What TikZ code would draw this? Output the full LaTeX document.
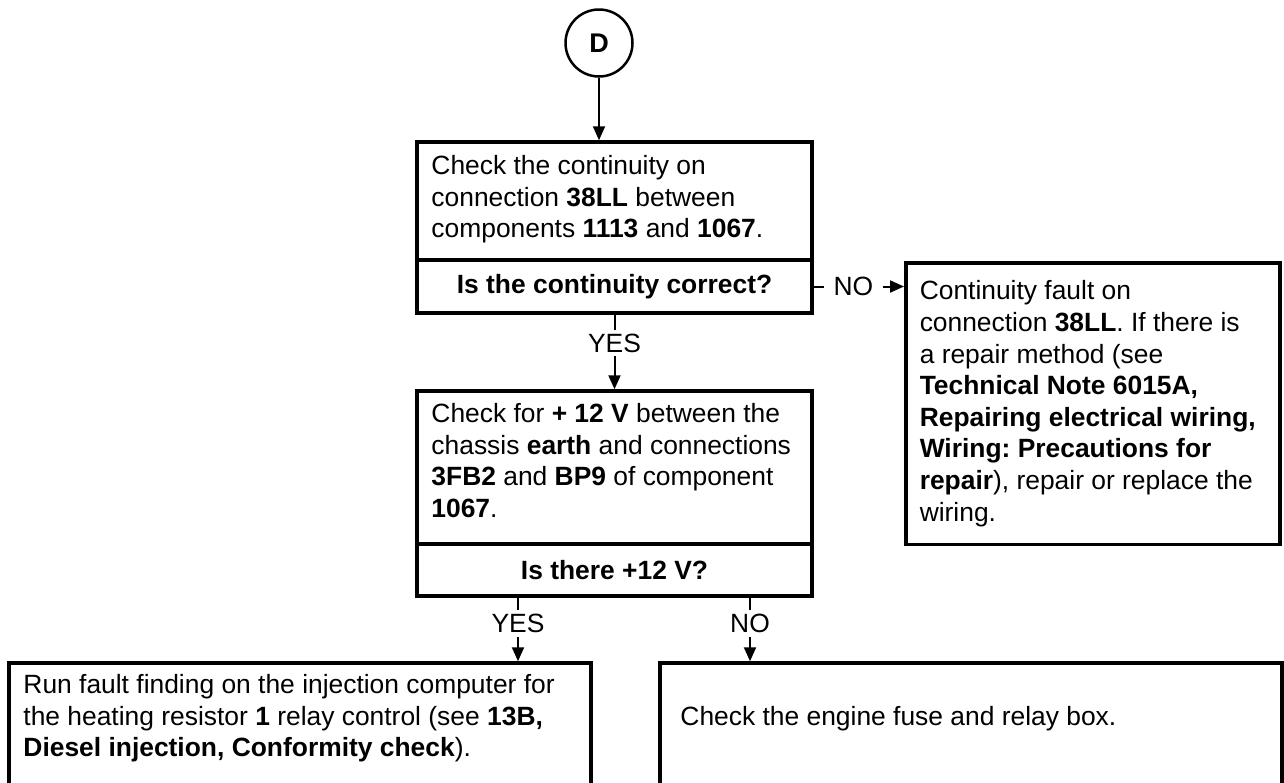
\documentclass[tikz,border=0pt]{standalone}
\usepackage{fontspec}
\setmainfont{Liberation Sans}
\usetikzlibrary{arrows.meta,positioning}
\frenchspacing

\begin{document}
\begin{tikzpicture}[
  x=1pt, y=-1pt,
  font=\fontsize{26.4}{31.6}\selectfont,
  box/.style={draw, line width=3.5pt, inner sep=0pt},
  ques/.style={box, font=\fontsize{26.4}{31.6}\selectfont\bfseries},
  txt/.style={anchor=north west, align=left, inner sep=0pt},
  lbl/.style={fill=white, inner xsep=10pt, inner ysep=4pt},
  arr/.style={-{Triangle[length=14pt, width=12pt]}, line width=2pt}
]
\path[use as bounding box, clip] (0,0) rectangle (1284,782);
\node[draw, circle, line width=2.5pt, minimum size=67pt, inner sep=0pt, font=\fontsize{27}{31.6}\selectfont\bfseries] (start) at (599,43) {D};
\node[box, minimum width=395pt, minimum height=118pt] (chk1) at (614.5,201) {};
\node[txt] (chk1txt) at ([shift={(16,15)}]chk1.north west) {Check the continuity on\\ connection \textbf{38LL} between\\ components \textbf{1113} and \textbf{1067}.};
\node[ques, minimum width=395pt, minimum height=53pt] (q1) at (614.5,286.5) {Is the continuity correct?};
\node[box, minimum width=395pt, minimum height=153pt] (chk2) at (614.5,467.5) {};
\node[txt] (chk2txt) at ([shift={(16,14)}]chk2.north west) {Check for \textbf{+ 12 V} between the\\ chassis \textbf{earth} and connections\\ \textbf{3FB2} and \textbf{BP9} of component\\ \textbf{1067}.};
\node[ques, minimum width=395pt, minimum height=52pt] (q2) at (614.5,570) {Is there +12 V?};
\node[box, anchor=north west, align=flush left, text width=346pt, inner xsep=14pt, inner ysep=18pt] (fault) at (904,261) {Continuity fault on\\ connection \textbf{38LL}. If there is\\ a repair method (see\\ \textbf{Technical Note 6015A,}\\ \textbf{Repairing electrical wiring,}\\ \textbf{Wiring: Precautions for}\\ \textbf{repair}), repair or replace the\\ wiring.};
\node[box, minimum width=582pt, minimum height=150pt] (fixA) at (300,738) {};
\node[txt] (fixAtxt) at ([shift={(16,13)}]fixA.north west) {Run fault finding on the injection computer for\\ the heating resistor \textbf{1} relay control (see \textbf{13B,}\\ \textbf{Diesel injection, Conformity check}).};
\node[box, minimum width=622pt, minimum height=150pt] (fixB) at (971,738) {};
\node[txt] (fixBtxt) at ([shift={(22,45)}]fixB.north west) {Check the engine fuse and relay box.};
\draw[arr] (start) -- (start |- chk1.north);
\draw[arr] (q1) -- node[lbl, pos=0.38] {YES} (chk2);
\draw[arr] (q1.east) -- node[lbl, pos=0.44] {NO} (q1.east -| fault.west);
\draw[arr] ([xshift=-96.5pt]q2.south) -- node[lbl, pos=0.4] {YES} ([xshift=-96.5pt]q2.south |- fixA.north);
\draw[arr] ([xshift=135.5pt]q2.south) -- node[lbl, pos=0.4] {NO} ([xshift=135.5pt]q2.south |- fixB.north);
\end{tikzpicture}
\end{document}
